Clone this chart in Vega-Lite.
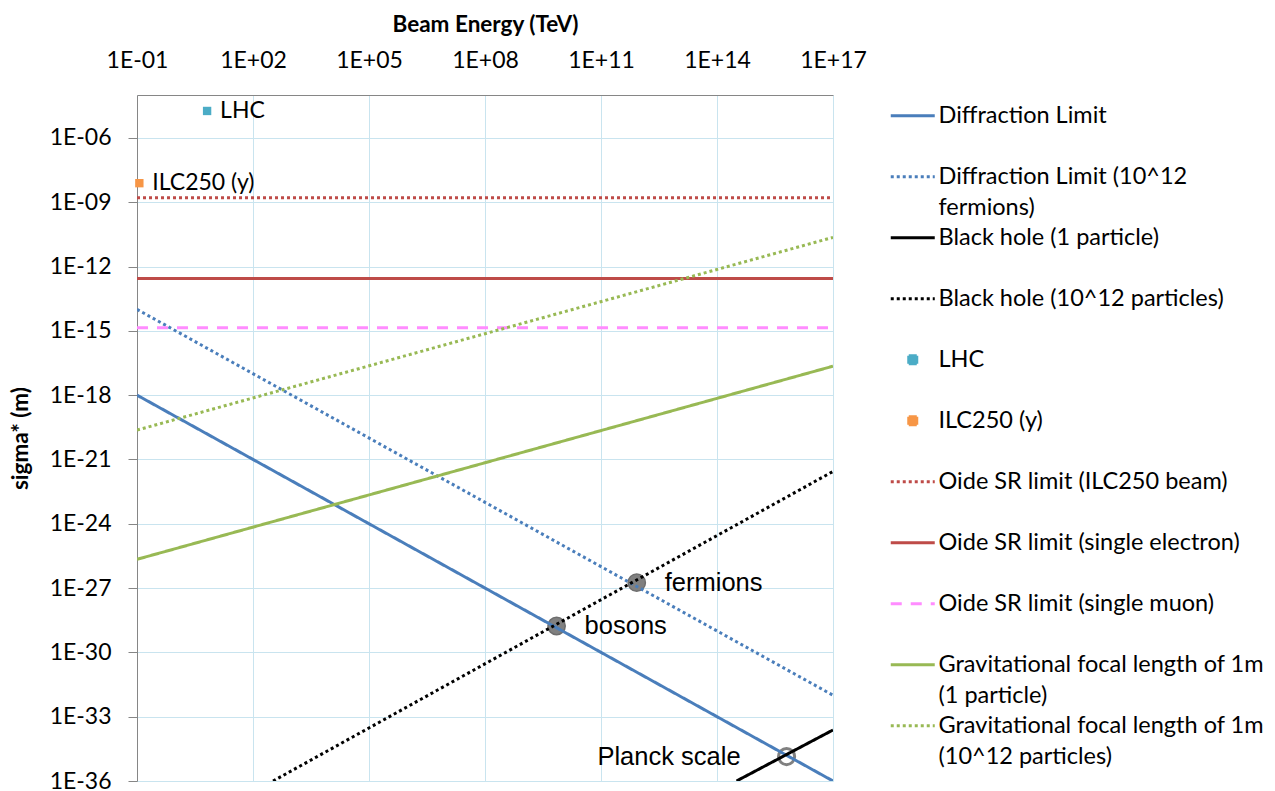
{
  "$schema": "https://vega.github.io/schema/vega-lite/v6.json",
  "width": 696,
  "height": 686,
  "autosize": {"type": "none"},
  "padding": {"left": 137, "top": 95, "right": 442, "bottom": 10},
  "background": "white",
  "config": {
    "view": {"stroke": null},
    "font": "Lato",
    "axis": {
      "labelFont": "Lato", "labelFontSize": 23, "labelColor": "#000000", "labelFlush": false,
      "titleFont": "Lato", "titleFontSize": 22.5, "titleFontWeight": "bold", "titleColor": "#000000",
      "gridColor": "#C9E4EF", "gridWidth": 1, "grid": true,
      "domainColor": "#868686", "domainWidth": 1, "tickColor": "#868686"
    }
  },
  "datasets": {
    "lines": [
      {"series": "Diffraction Limit", "E": 0.1, "sigma": 1e-18},
      {"series": "Diffraction Limit", "E": 1e17, "sigma": 1e-36},
      {"series": "Diffraction Limit (10^12 fermions)", "E": 0.1, "sigma": 1e-14},
      {"series": "Diffraction Limit (10^12 fermions)", "E": 1e17, "sigma": 1e-32},
      {"series": "Black hole (1 particle)", "E": 3.2e14, "sigma": 1e-36},
      {"series": "Black hole (1 particle)", "E": 1e17, "sigma": 2.4e-34},
      {"series": "Black hole (10^12 particles)", "E": 330, "sigma": 1e-36},
      {"series": "Black hole (10^12 particles)", "E": 1e17, "sigma": 2.75e-22},
      {"series": "Oide SR limit (ILC250 beam)", "E": 0.1, "sigma": 1.6e-9},
      {"series": "Oide SR limit (ILC250 beam)", "E": 1e17, "sigma": 1.6e-9},
      {"series": "Oide SR limit (single electron)", "E": 0.1, "sigma": 2.75e-13},
      {"series": "Oide SR limit (single electron)", "E": 1e17, "sigma": 2.75e-13},
      {"series": "Oide SR limit (single muon)", "E": 0.1, "sigma": 1.38e-15},
      {"series": "Oide SR limit (single muon)", "E": 1e17, "sigma": 1.38e-15},
      {"series": "Gravitational focal length of 1m (1 particle)", "E": 0.1, "sigma": 2.19e-26},
      {"series": "Gravitational focal length of 1m (1 particle)", "E": 1e17, "sigma": 2.24e-17},
      {"series": "Gravitational focal length of 1m (10^12 particles)", "E": 0.1, "sigma": 2.34e-20},
      {"series": "Gravitational focal length of 1m (10^12 particles)", "E": 1e17, "sigma": 2.29e-11}
    ],
    "points": [
      {"series": "LHC", "E": 6.5, "sigma": 1.8e-5},
      {"series": "ILC250 (y)", "E": 0.115, "sigma": 7.7e-9}
    ],
    "notes": [
      {"label": "bosons", "E": 7.1e9, "sigma": 1.7e-29},
      {"label": "fermions", "E": 8.4e11, "sigma": 1.78e-27},
      {"label": "Planck scale", "E": 6.3e15, "sigma": 1.38e-35}
    ]
  },
  "encoding": {
    "x": {
      "field": "E", "type": "quantitative",
      "scale": {"type": "log", "domain": [0.1, 1e17], "nice": false},
      "axis": {
        "orient": "top", "title": "Beam Energy (TeV)",
        "values": [0.1, 100, 100000, 100000000, 100000000000, 100000000000000, 100000000000000000],
        "labelExpr": "'1E' + (round(log(datum.value)/LN10) < 0 ? '-' : '+') + (abs(round(log(datum.value)/LN10)) < 10 ? '0' : '') + abs(round(log(datum.value)/LN10))",
        "ticks": false, "labelPadding": 23, "titlePadding": 13
      }
    },
    "y": {
      "field": "sigma", "type": "quantitative",
      "scale": {"type": "log", "domain": [1e-36, 1e-4], "nice": false},
      "axis": {
        "title": "sigma* (m)",
        "values": [1e-36, 1e-33, 1e-30, 1e-27, 1e-24, 1e-21, 1e-18, 1e-15, 1e-12, 1e-9, 1e-6],
        "labelExpr": "'1E' + (round(log(datum.value)/LN10) < 0 ? '-' : '+') + (abs(round(log(datum.value)/LN10)) < 10 ? '0' : '') + abs(round(log(datum.value)/LN10))",
        "tickSize": 9, "labelPadding": 17, "titlePadding": 17
      }
    }
  },
  "layer": [
    {
      "data": {"name": "notes"},
      "transform": [{"filter": "datum.label != 'Planck scale'"}],
      "mark": {"type": "point", "shape": "circle", "size": 300, "filled": true, "fill": "#808080", "stroke": "#6E6E6E", "strokeWidth": 1.5, "opacity": 1}
    },
    {
      "data": {"name": "notes"},
      "transform": [{"filter": "datum.label == 'Planck scale'"}],
      "mark": {"type": "point", "shape": "circle", "size": 260, "filled": false, "stroke": "#808080", "strokeWidth": 3, "opacity": 1}
    },
    {
      "data": {"name": "lines"},
      "mark": {"type": "line", "strokeWidth": 3, "clip": true},
      "encoding": {
        "color": {
          "field": "series", "type": "nominal",
          "scale": {
            "domain": ["Diffraction Limit", "Diffraction Limit (10^12 fermions)", "Black hole (1 particle)", "Black hole (10^12 particles)", "LHC", "ILC250 (y)", "Oide SR limit (ILC250 beam)", "Oide SR limit (single electron)", "Oide SR limit (single muon)", "Gravitational focal length of 1m (1 particle)", "Gravitational focal length of 1m (10^12 particles)"],
            "range": ["#4A7EBB", "#4A7EBB", "#000000", "#000000", "#4BACC6", "#F79646", "#BE4B48", "#BE4B48", "#FF8CFF", "#98B954", "#98B954"]
          },
          "legend": {
            "title": null, "orient": "right", "offset": 48, "padding": 9,
            "symbolType": "stroke", "symbolSize": 100, "symbolStrokeWidth": 3, "symbolOffset": 11,
            "labelFont": "Lato", "labelFontSize": 23.5, "labelColor": "#000000", "labelLimit": 420, "labelOffset": 14,
            "rowPadding": 5,
            "labelExpr": "split(indexof(datum.label,'1m (')>=0 ? replace(datum.label,'1m (','1m|(') : indexof(datum.label,'12 fermions')>=0 ? replace(datum.label,'12 fermions','12|fermions') : datum.label + '| ', '|')",
            "encode": {
              "symbols": {"update": {
                "shape": {"signal": "indexof(['LHC','ILC250 (y)'], datum.value) >= 0 ? 'M-0.8,-0.8H0.8V0.8H-0.8Z' : 'M-4.4,0H4.4'"},
                "size": {"value": 100},
                "fill": {"signal": "indexof(['LHC','ILC250 (y)'], datum.value) >= 0 ? scale('color', datum.value) : 'transparent'"},
                "stroke": {"signal": "indexof(['LHC','ILC250 (y)'], datum.value) >= 0 ? 'transparent' : scale('color', datum.value)"},
                "strokeDash": {"signal": "scale('strokeDash', datum.value)"},
                "strokeWidth": {"value": 3},
                "opacity": {"value": 1}
              }},
              "labels": {"update": {"lineHeight": {"value": 31.7}}}
            }
          }
        },
        "strokeDash": {
          "field": "series", "type": "nominal",
          "scale": {
            "domain": ["Diffraction Limit", "Diffraction Limit (10^12 fermions)", "Black hole (1 particle)", "Black hole (10^12 particles)", "LHC", "ILC250 (y)", "Oide SR limit (ILC250 beam)", "Oide SR limit (single electron)", "Oide SR limit (single muon)", "Gravitational focal length of 1m (1 particle)", "Gravitational focal length of 1m (10^12 particles)"],
            "range": [[1, 0], [3, 3], [1, 0], [3, 3], [1, 0], [1, 0], [3, 3], [1, 0], [11, 9], [1, 0], [3, 3]]
          },
          "legend": null
        }
      }
    },
    {
      "data": {"name": "points"},
      "mark": {"type": "square", "size": 70, "filled": true, "opacity": 1},
      "encoding": {
        "color": {
          "field": "series", "type": "nominal",
          "scale": {
            "domain": ["Diffraction Limit", "Diffraction Limit (10^12 fermions)", "Black hole (1 particle)", "Black hole (10^12 particles)", "LHC", "ILC250 (y)", "Oide SR limit (ILC250 beam)", "Oide SR limit (single electron)", "Oide SR limit (single muon)", "Gravitational focal length of 1m (1 particle)", "Gravitational focal length of 1m (10^12 particles)"],
            "range": ["#4A7EBB", "#4A7EBB", "#000000", "#000000", "#4BACC6", "#F79646", "#BE4B48", "#BE4B48", "#FF8CFF", "#98B954", "#98B954"]
          }
        }
      }
    },
    {
      "data": {"name": "points"},
      "mark": {"type": "text", "align": "left", "baseline": "middle", "dx": 13, "font": "Lato", "fontSize": 23, "color": "#000000"},
      "encoding": {"text": {"field": "series"}}
    },
    {
      "data": {"name": "notes"},
      "transform": [{"filter": "datum.label != 'Planck scale'"}],
      "mark": {"type": "text", "align": "left", "baseline": "middle", "dx": 28, "font": "Liberation Sans", "fontSize": 25.5, "color": "#000000"},
      "encoding": {"text": {"field": "label"}}
    },
    {
      "data": {"name": "notes"},
      "transform": [{"filter": "datum.label == 'Planck scale'"}],
      "mark": {"type": "text", "align": "right", "baseline": "middle", "dx": -46, "font": "Liberation Sans", "fontSize": 25.5, "color": "#000000"},
      "encoding": {"text": {"field": "label"}}
    }
  ]
}
